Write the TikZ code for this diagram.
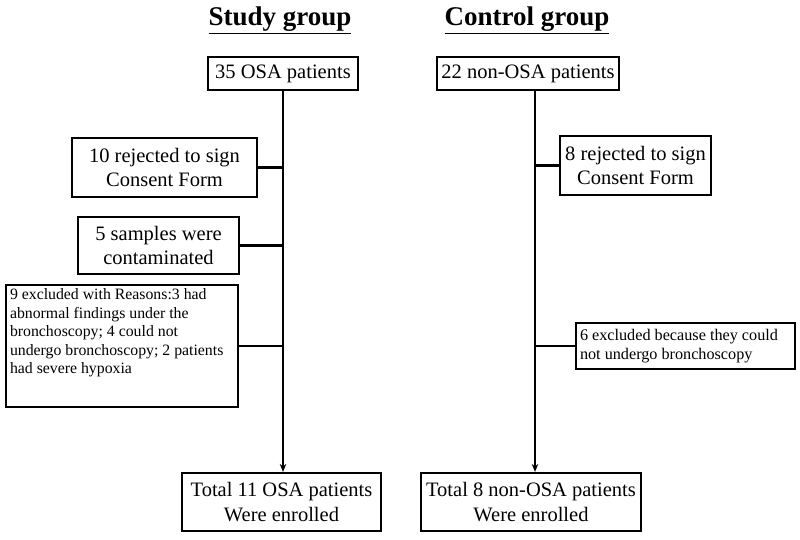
\documentclass[tikz,border=0pt]{standalone}
\usepackage{fontspec}
\setmainfont{Liberation Serif}
\usetikzlibrary{arrows.meta}
\begin{document}
\begin{tikzpicture}[x=1pt,y=-1pt,
  box/.style={draw,line width=2.2pt,rectangle,inner sep=0pt,align=center,
    font=\fontsize{20.5}{24.5}\selectfont},
  smallbox/.style={draw,line width=2.2pt,rectangle,inner sep=0pt},
  title/.style={font=\fontsize{27}{30}\selectfont\bfseries},
  link/.style={line width=2.2pt},
  arr/.style={line width=2.2pt,-{Stealth[length=8pt,width=6.5pt]}}]
\useasboundingbox[fill=white] (0,0) rectangle (800,539);
\node[title] (ts) at (280,20) {\underline{Study group}};
\node[title] (tc) at (527,20) {\underline{Control group}};
% study group
\node[box,minimum width=150,minimum height=33] (s0) at (283,73.5) {35 OSA patients};
\node[box,minimum width=185,minimum height=59] (s1) at (164.5,167.5) {10 rejected to sign\\Consent Form};
\node[box,minimum width=161,minimum height=57] (s2) at (158.5,245.5) {5 samples were\\contaminated};
\node[smallbox,minimum width=232,minimum height=122] (s3) at (122,346)
  {\parbox[c][114pt][t]{224pt}{\fontsize{15.8}{18.5}\selectfont\raggedright
   9 excluded with Reasons:3 had\\abnormal findings under the\\bronchoscopy; 4 could not\\undergo bronchoscopy; 2 patients\\had severe hypoxia}};
\node[box,minimum width=199,minimum height=58] (s4) at (281.5,502) {Total 11 OSA patients\\Were enrolled};
% control group
\node[box,minimum width=182,minimum height=33] (c0) at (528,73.5) {22 non-OSA patients};
\node[box,minimum width=151,minimum height=59] (c1) at (635.5,165.5) {8 rejected to sign\\Consent Form};
\node[smallbox,minimum width=219,minimum height=46] (c2) at (685.5,346)
  {\parbox[c][40pt][c]{211pt}{\fontsize{16.2}{19}\selectfont\raggedright
   6 excluded because they could\\not undergo bronchoscopy}};
\node[box,minimum width=220,minimum height=58] (c3) at (531,502) {Total 8 non-OSA patients\\Were enrolled};
% connectors
\coordinate (sv) at (s0.south);
\coordinate (cv) at (535,90);
\draw[arr] (sv) -- (sv |- s4.north);
\draw[arr] (cv) -- (cv |- c3.north);
\draw[link] (s1.east) -- (s1.east -| sv);
\draw[link] (s2.east) -- (s2.east -| sv);
\draw[link] (s3.east) -- (s3.east -| sv);
\draw[link] (c1.west) -- (c1.west -| cv);
\draw[link] (c2.west) -- (c2.west -| cv);
\end{tikzpicture}
\end{document}
